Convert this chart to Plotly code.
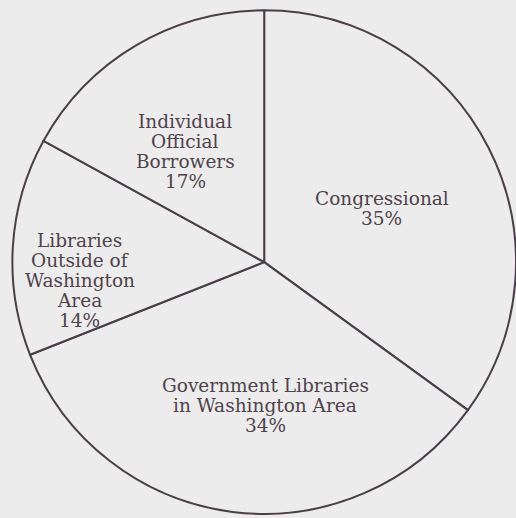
import plotly.graph_objects as go

categories = ["Congressional", "Government Libraries in Washington Area",
              "Libraries Outside of Washington Area", "Individual Official Borrowers"]
shares = [35, 34, 14, 17]
label_lines = [["Congressional", "35%"],
               ["Government Libraries", "in Washington Area", "34%"],
               ["Libraries", "Outside of", "Washington", "Area", "14%"],
               ["Individual", "Official", "Borrowers", "17%"]]
label_pos = [(0.740, 0.598), (0.514, 0.218), (0.155, 0.458), (0.359, 0.707)]

bg = "#ececec"
ink = "#4a3f48"
txt = "#4f424b"
line_gap = 20

fig = go.Figure(go.Pie(
    labels=categories, values=shares, sort=False, direction="clockwise",
    rotation=0, textinfo="none", hoverinfo="label+percent",
    marker=dict(colors=[bg] * 4, line=dict(color=ink, width=2)),
    domain=dict(x=[0.024, 1.0], y=[0.004, 0.984]), showlegend=False,
))

for lines, (x, y) in zip(label_lines, label_pos):
    n = len(lines)
    for i, t in enumerate(lines):
        fig.add_annotation(x=x, y=y, xref="paper", yref="paper", text=t, showarrow=False,
                           xanchor="center", yanchor="middle",
                           yshift=((n - 1) / 2 - i) * line_gap,
                           font=dict(family="DejaVu Serif", size=18.5, color=txt))

fig.update_layout(width=516, height=518, margin=dict(l=0, r=0, t=0, b=0),
                  paper_bgcolor=bg, plot_bgcolor=bg)
fig.write_html("out.html", config={"displayModeBar": False},
               post_script="document.body.style.margin='0';document.body.style.background='%s';" % bg)
